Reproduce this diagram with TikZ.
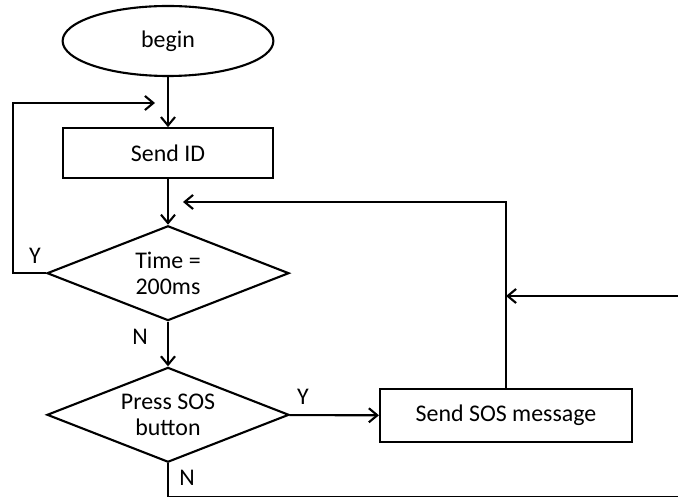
\documentclass[tikz,border=0pt]{standalone}
\usepackage{fontspec}
\setmainfont{Carlito}
\usepackage{tikz}
\usetikzlibrary{arrows.meta,positioning,shapes.geometric,calc}

\begin{document}
\begin{tikzpicture}[
        line width=1.5pt,
        every node/.style={font=\fontsize{17}{18.5}\selectfont},
        startbox/.style={draw, ellipse, minimum width=5.27cm, minimum height=1.75cm, inner sep=0pt},
        procbox/.style={draw, rectangle, minimum height=1.25cm, align=center, inner sep=0pt},
        decbox/.style={draw, diamond, aspect=2.55, minimum width=6.05cm, minimum height=2.37cm,
                       inner sep=0pt, align=center},
        arr/.style={-{Straight Barb[length=6pt,width=10pt]}},
    ]
    \useasboundingbox (0,0) rectangle (16.95,-12.425);

    % main column
    \node[startbox] (begin) at (4.2,-1.025) {begin};
    \node[procbox, minimum width=5.25cm] (sendid) at (4.2,-3.83) {Send ID};
    \node[decbox] (time) at (4.2,-6.83) {Time =\\200ms};
    \node[decbox] (press) at (4.2,-10.37) {Press SOS\\button};
    \node[procbox, minimum width=6.3cm, minimum height=1.33cm] (sosmsg) at (12.65,-10.39) {Send SOS message};

    \draw[arr] (begin) -- (sendid);
    \draw[arr] (sendid) -- (time);
    \draw[arr] (time) -- (press);
    \draw[arr] (press) -- (sosmsg);
    \node (timen) at (3.5,-8.425) {N};
    \node (pressy) at (7.575,-9.925) {Y};

    % loop back when time is up
    \coordinate (loopend) at (3.875,-2.575);
    \draw[arr] (time.west) -- ++(-0.83,0) |- (loopend);
    \node (timey) at (0.875,-6.4) {Y};

    % return from SOS message
    \coordinate (backend) at (4.575,-5.05);
    \draw[arr] (sosmsg.north) |- (backend);
    \coordinate (inright) at (16.95,-7.4);
    \draw[arr] (inright) -- (inright -| sosmsg.north);

    % exit when no button pressed
    \coordinate (exit) at (16.95,-12.43);
    \draw (press.south) |- (exit);
    \node (pressn) at (4.675,-11.95) {N};
\end{tikzpicture}
\end{document}
